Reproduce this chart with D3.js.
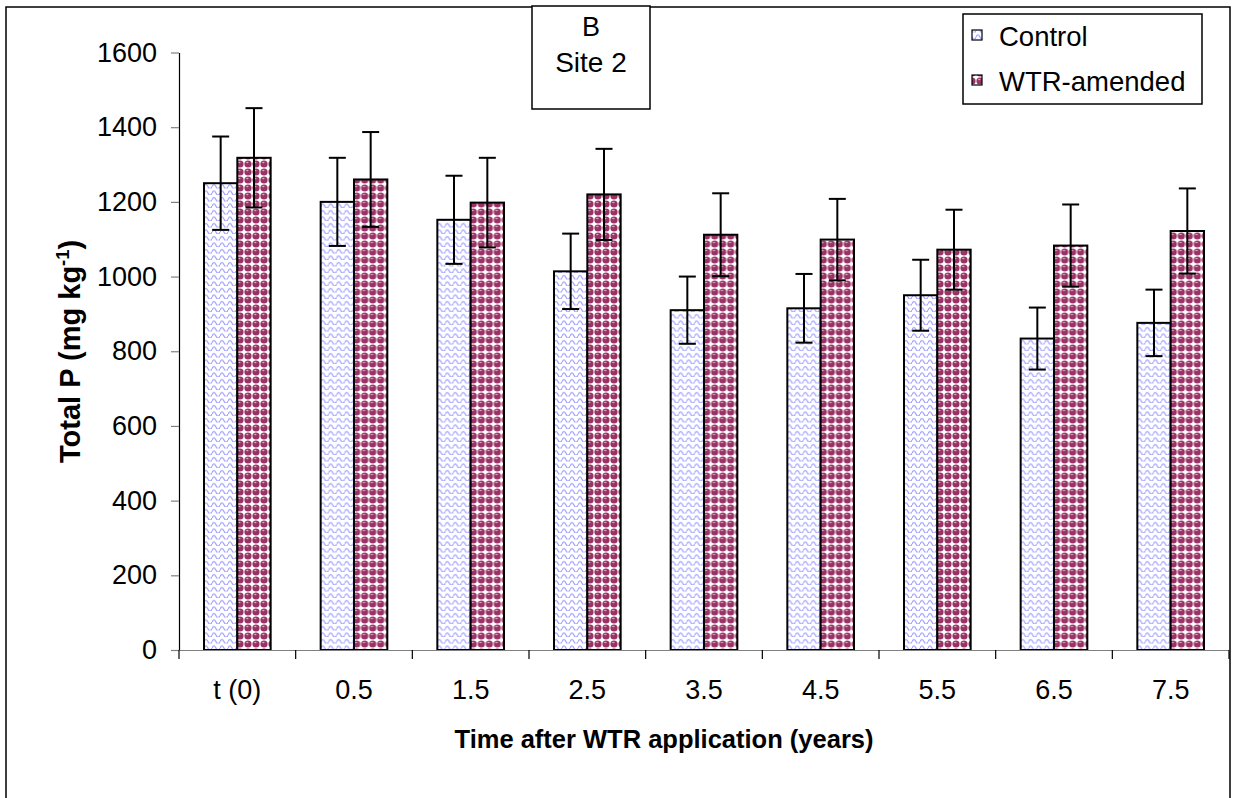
<!DOCTYPE html>
<html><head><meta charset="utf-8">
<script src="https://cdn.jsdelivr.net/npm/d3@7"></script>
<style>
html,body{margin:0;padding:0;background:#fff;}
svg{display:block;font-family:"Liberation Sans",Arial,sans-serif;}
</style></head>
<body>
<svg id="chart" width="1233" height="798"></svg>
<script>
const categories = ["t (0)", "0.5", "1.5", "2.5", "3.5", "4.5", "5.5", "6.5", "7.5"];
const seriesNames = ["Control", "WTR-amended"];
const controlMean = [1250, 1200, 1152, 1014, 910, 915, 950, 834, 876];
const controlErr  = [125, 118, 118, 101, 90, 92, 95, 83, 89];
const wtrMean     = [1318, 1260, 1198, 1220, 1112, 1099, 1072, 1083, 1122];
const wtrErr      = [133, 127, 120, 122, 111, 109, 107, 110, 114];
const yTicks = [0, 200, 400, 600, 800, 1000, 1200, 1400, 1600];

const svg = d3.select("#chart");
const defs = svg.append("defs");

// Control pattern: light blue waves on white
const pc = defs.append("pattern").attr("id","pControl").attr("patternUnits","userSpaceOnUse")
  .attr("width",8).attr("height",6.5);
pc.append("rect").attr("width",8).attr("height",6.5).attr("fill","#fff");
pc.append("path").attr("d","M0,4.6 Q2,0.4 4,4.6 T8,4.6").attr("fill","none")
  .attr("stroke","#9d9dff").attr("stroke-width",1.2);

// WTR pattern: maroon spheres on white
const pw = defs.append("pattern").attr("id","pWTR").attr("patternUnits","userSpaceOnUse")
  .attr("width",8).attr("height",8);
pw.append("rect").attr("width",8).attr("height",8).attr("fill","#fff");
pw.append("circle").attr("cx",4).attr("cy",4).attr("r",3.6).attr("fill","#993366");
pw.append("ellipse").attr("cx",3.3).attr("cy",2.5).attr("rx",1.3).attr("ry",0.8).attr("fill","#dba3bf");

const fills = ["url(#pControl)", "url(#pWTR)"];

// outer border
svg.append("rect").attr("x",6).attr("y",7).attr("width",1224).attr("height",800)
  .attr("fill","none").attr("stroke","#000").attr("stroke-width",1.5);

const plotLeft = 179, plotRight = 1229, plotTop = 52.5, plotBottom = 650;
const pad = 1.5/3.5;
const x0 = d3.scaleBand().domain(categories).range([plotLeft,plotRight]).paddingInner(pad).paddingOuter(pad/2);
const x1 = d3.scaleBand().domain(seriesNames).range([0,x0.bandwidth()]).padding(0);
const y = d3.scaleLinear().domain([0,1600]).range([plotBottom,plotTop]);

const data = categories.map((c,i)=>({cat:c, vals:[
  {s:"Control", v:controlMean[i], e:controlErr[i], k:0},
  {s:"WTR-amended", v:wtrMean[i], e:wtrErr[i], k:1}]}));

// y axis
const yAxis = svg.append("g").attr("transform",`translate(${plotLeft},0)`)
  .call(d3.axisLeft(y).tickValues(yTicks).tickFormat(d3.format("d")).tickSize(8).tickPadding(14).tickSizeOuter(0));
yAxis.select(".domain").attr("stroke","#000").attr("stroke-width",1.2);
yAxis.selectAll(".tick line").attr("stroke","#808080").attr("stroke-width",1.2);
yAxis.selectAll(".tick text").attr("font-size",27).attr("fill","#000")
  .attr("font-family","'Liberation Sans',Arial,sans-serif");

// bars
const groups = svg.append("g").selectAll("g").data(data).join("g")
  .attr("transform",d=>`translate(${x0(d.cat)},0)`);
groups.selectAll("rect").data(d=>d.vals).join("rect")
  .attr("x",d=>x1(d.s)).attr("width",x1.bandwidth())
  .attr("y",d=>y(d.v)).attr("height",d=>y(0)-y(d.v))
  .attr("fill",d=>fills[d.k]).attr("stroke","#000").attr("stroke-width",2);

// x axis line + boundary ticks
const xAxis = svg.append("g").attr("transform",`translate(0,${plotBottom})`)
  .call(d3.axisBottom(x0).tickSize(0).tickPadding(30).tickSizeOuter(0));
xAxis.select(".domain").attr("stroke","#808080").attr("stroke-width",1.2);
xAxis.selectAll(".tick text").attr("font-size",27).attr("fill","#000")
  .attr("font-family","'Liberation Sans',Arial,sans-serif");
const step = x0.step();
xAxis.selectAll(".bt").data(d3.range(categories.length+1)).join("line").attr("class","bt")
  .attr("x1",i=>x0(categories[0]) - step*pad/2 + i*step)
  .attr("x2",i=>x0(categories[0]) - step*pad/2 + i*step)
  .attr("y1",0).attr("y2",9).attr("stroke","#000").attr("stroke-width",1.2);

// error bars
const eb = groups.selectAll("g.err").data(d=>d.vals).join("g").attr("class","err");
eb.append("line").attr("x1",d=>x1(d.s)+x1.bandwidth()/2).attr("x2",d=>x1(d.s)+x1.bandwidth()/2)
  .attr("y1",d=>y(d.v+d.e)).attr("y2",d=>y(d.v-d.e)).attr("stroke","#000").attr("stroke-width",2);
eb.append("line").attr("x1",d=>x1(d.s)+x1.bandwidth()/2-8.5).attr("x2",d=>x1(d.s)+x1.bandwidth()/2+8.5)
  .attr("y1",d=>y(d.v+d.e)).attr("y2",d=>y(d.v+d.e)).attr("stroke","#000").attr("stroke-width",2);
eb.append("line").attr("x1",d=>x1(d.s)+x1.bandwidth()/2-8.5).attr("x2",d=>x1(d.s)+x1.bandwidth()/2+8.5)
  .attr("y1",d=>y(d.v-d.e)).attr("y2",d=>y(d.v-d.e)).attr("stroke","#000").attr("stroke-width",2);

// axis titles
svg.append("text").attr("x",664).attr("y",748).attr("text-anchor","middle")
  .attr("font-size",25.5).attr("font-weight","bold").text("Time after WTR application (years)");
const yl = svg.append("text").attr("transform","translate(80,463) rotate(-90)")
  .attr("text-anchor","start").attr("font-size",29).attr("font-weight","bold");
yl.append("tspan").text("Total P (mg kg");
yl.append("tspan").attr("dy",-11).attr("font-size",18.5).text("-1");
yl.append("tspan").attr("dy",11).text(")");

// title box
svg.append("rect").attr("x",532).attr("y",6).attr("width",118).attr("height",103)
  .attr("fill","#fff").attr("stroke","#000").attr("stroke-width",1.5);
svg.append("text").attr("x",591).attr("y",36).attr("text-anchor","middle").attr("font-size",27).text("B");
svg.append("text").attr("x",591).attr("y",72).attr("text-anchor","middle").attr("font-size",28).text("Site 2");

// legend
const lg = svg.append("g");
lg.append("rect").attr("x",963).attr("y",14).attr("width",239).attr("height",90)
  .attr("fill","#fff").attr("stroke","#000").attr("stroke-width",1.5);
const li = lg.selectAll("g.li").data(seriesNames).join("g").attr("class","li")
  .attr("transform",(d,i)=>`translate(0,${i*45})`);
li.append("rect").attr("x",972).attr("y",30).attr("width",10).attr("height",10)
  .attr("fill",(d,i)=>fills[i]).attr("stroke","#000").attr("stroke-width",1.2);
li.append("text").attr("x",999).attr("y",46).attr("font-size",27.5).text(d=>d);
</script>
</body></html>
